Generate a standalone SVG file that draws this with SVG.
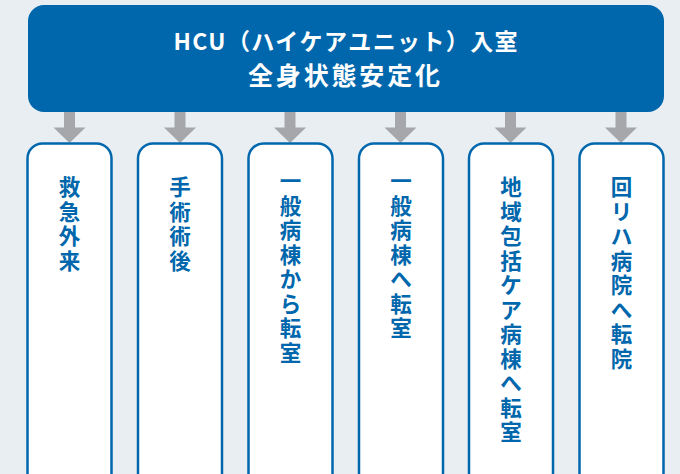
<svg xmlns="http://www.w3.org/2000/svg" width="680" height="474" viewBox="0 0 680 474">
<style>
.hd{fill:#ffffff;font-family:"Noto Sans CJK JP","Noto Sans",sans-serif;font-weight:bold;text-anchor:middle}
.nb{fill:#ffffff;stroke:#0067ac;stroke-width:2.5}
.nt{fill:#0067ac;font-family:"Noto Sans CJK JP","Noto Sans",sans-serif;font-weight:bold;font-size:21.5px;text-anchor:middle}
.ar{fill:#a6a7aa}
</style>
<defs>
<path id="arr" class="ar" d="M-5.5,112 H5.5 V127.5 H16 L0,143 L-16,127.5 H-5.5 Z"/>
</defs>
<rect x="0" y="0" width="680" height="474" fill="#e9eef3"/>
<g id="hcu">
<rect x="28" y="5" width="636" height="107" rx="16" fill="#0067ac"/>
<text class="hd" x="345.5" y="49.5" font-size="23" textLength="344" lengthAdjust="spacing">HCU（ハイケアユニット）入室</text>
<text class="hd" x="344" y="84.5" font-size="25" textLength="192" lengthAdjust="spacing">全身状態安定化</text>
</g>
<g id="connectors">
<use href="#arr" x="69.5"/>
<use href="#arr" x="180"/>
<use href="#arr" x="290"/>
<use href="#arr" x="400.5"/>
<use href="#arr" x="510.5"/>
<use href="#arr" x="621"/>
</g>
<g id="n1">
<rect class="nb" x="27.5" y="143.5" width="84" height="345" rx="15"/>
<text class="nt"><tspan x="69.5" y="195">救</tspan><tspan x="69.5" dy="24.5">急</tspan><tspan x="69.5" dy="24.5">外</tspan><tspan x="69.5" dy="24.5">来</tspan></text>
</g>
<g id="n2">
<rect class="nb" x="138" y="143.5" width="84" height="345" rx="15"/>
<text class="nt"><tspan x="180" y="195">手</tspan><tspan x="180" dy="24.5">術</tspan><tspan x="180" dy="24.5">術</tspan><tspan x="180" dy="24.5">後</tspan></text>
</g>
<g id="n3">
<rect class="nb" x="248.5" y="143.5" width="84" height="345" rx="15"/>
<text class="nt"><tspan x="290.5" y="189">一</tspan><tspan x="290.5" dy="24.5">般</tspan><tspan x="290.5" dy="24.5">病</tspan><tspan x="290.5" dy="24.5">棟</tspan><tspan x="290.5" dy="24.5">か</tspan><tspan x="290.5" dy="24.5">ら</tspan><tspan x="290.5" dy="24.5">転</tspan><tspan x="290.5" dy="24.5">室</tspan></text>
</g>
<g id="n4">
<rect class="nb" x="359" y="143.5" width="84" height="345" rx="15"/>
<text class="nt"><tspan x="401" y="189">一</tspan><tspan x="401" dy="24.5">般</tspan><tspan x="401" dy="24.5">病</tspan><tspan x="401" dy="24.5">棟</tspan><tspan x="401" dy="24.5">へ</tspan><tspan x="401" dy="24.5">転</tspan><tspan x="401" dy="24.5">室</tspan></text>
</g>
<g id="n5">
<rect class="nb" x="469" y="143.5" width="84" height="345" rx="15"/>
<text class="nt"><tspan x="511" y="195">地</tspan><tspan x="511" dy="24.5">域</tspan><tspan x="511" dy="24.5">包</tspan><tspan x="511" dy="24.5">括</tspan><tspan x="511" dy="24.5">ケ</tspan><tspan x="511" dy="24.5">ア</tspan><tspan x="511" dy="24.5">病</tspan><tspan x="511" dy="24.5">棟</tspan><tspan x="511" dy="24.5">へ</tspan><tspan x="511" dy="24.5">転</tspan><tspan x="511" dy="24.5">室</tspan></text>
</g>
<g id="n6">
<rect class="nb" x="579.5" y="143.5" width="84" height="345" rx="15"/>
<text class="nt"><tspan x="621.5" y="195">回</tspan><tspan x="621.5" dy="24.5">リ</tspan><tspan x="621.5" dy="24.5">ハ</tspan><tspan x="621.5" dy="24.5">病</tspan><tspan x="621.5" dy="24.5">院</tspan><tspan x="621.5" dy="24.5">へ</tspan><tspan x="621.5" dy="24.5">転</tspan><tspan x="621.5" dy="24.5">院</tspan></text>
</g>
</svg>
